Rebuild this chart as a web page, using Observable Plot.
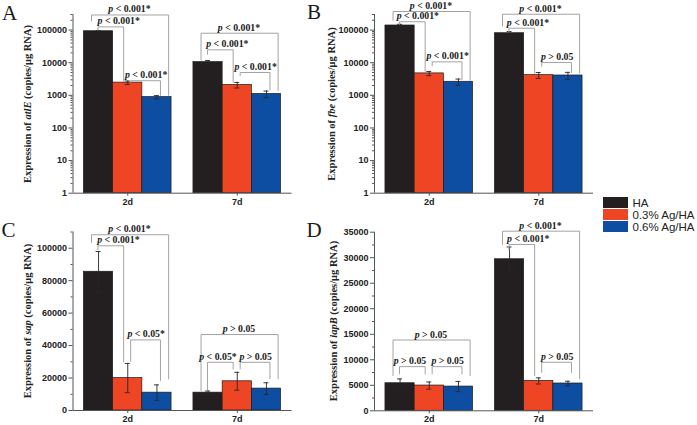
<!DOCTYPE html>
<html><head><meta charset="utf-8">
<script src="https://cdn.jsdelivr.net/npm/d3@7"></script>
<script src="https://cdn.jsdelivr.net/npm/@observablehq/plot@0.6"></script>
<style>
body{margin:0;background:#fff;}
#fig{position:relative;width:697px;height:425px;overflow:hidden;background:#fff;font-family:"Liberation Sans",Arial,sans-serif;}
#fig svg{position:absolute;left:0;top:0;max-width:none;}
.letter{position:absolute;font-family:"Liberation Serif","Times New Roman",serif;font-size:21px;line-height:21px;color:#1a1a1a;}
.ylab{position:absolute;font-family:"Liberation Serif","Times New Roman",serif;font-weight:bold;font-size:10.5px;line-height:11px;white-space:nowrap;transform:translate(-50%,-50%) rotate(-90deg);color:#222;}
.legend{position:absolute;left:603px;top:196.5px;}
.legrow{display:flex;align-items:center;height:12px;}
.sw{width:25px;height:10.5px;margin-right:4.5px;}
.legrow span{font-size:11.5px;color:#222;line-height:12px;}
</style>
</head><body>
<div id="fig"></div>
<script>
// ---- data ----
const groups = ["2d", "7d"];
const series = ["HA", "0.3% Ag/HA", "0.6% Ag/HA"];
const seriesColors = ["#231f20", "#ee4524", "#0d4ea3"];

// values in order: 2d HA, 2d 0.3%, 2d 0.6%, 7d HA, 7d 0.3%, 7d 0.6%
const atlEMean = [92000, 2450, 880, 10400, 2080, 1100];
const atlEErr  = [4000, 300, 100, 1300, 400, 250];
const fbeMean  = [138000, 4700, 2600, 80000, 4150, 4050];
const fbeErr   = [12000, 700, 550, 10000, 850, 1000];
const sapMean  = [85500, 20000, 11000, 11000, 18000, 13500];
const sapErr   = [12500, 9000, 4800, 1000, 5500, 3600];
const iapBMean = [5400, 4950, 4750, 29700, 5850, 5350];
const iapBErr  = [850, 700, 1000, 2400, 600, 450];

const logTicks  = [1, 10, 100, 1000, 10000, 100000];
const sapTicks  = [0, 20000, 40000, 60000, 80000, 100000];
const iapBTicks = [0, 5000, 10000, 15000, 20000, 25000, 30000, 35000];

// significance brackets: [group, bar a, bar b, line level, left leg end, right leg end, label, label position?]
const atlEBrackets = [
  ["2d", 0, 2, 290000, 190000, 1000, "p < 0.001*"],
  ["2d", 0, 1, 125000, 100000, 2700, "p < 0.001*", 1.19],
  ["2d", 1, 2, 2800, 2500, 1000, "p < 0.001*"],
  ["7d", 0, 2, 80000, 12000, 1400, "p < 0.001*"],
  ["7d", 0, 1, 24800, 18000, 2500, "p < 0.001*", 1.16],
  ["7d", 1, 2, 5000, 4000, 1450, "p < 0.001*"]
];
const fbeBrackets = [
  ["2d", 0, 2, 370000, 200000, 2900, "p < 0.001*"],
  ["2d", 0, 1, 180000, 150000, 5400, "p < 0.001*", 1.11],
  ["2d", 1, 2, 10600, 8000, 3000, "p < 0.001*"],
  ["7d", 0, 2, 306000, 134000, 4800, "p < 0.001*"],
  ["7d", 0, 1, 114000, 88000, 4800, "p < 0.001*", 1.13],
  ["7d", 1, 2, 10100, 7700, 4900, "p > 0.05"]
];
const sapBrackets = [
  ["2d", 0, 2, 108300, 103600, 19500, "p < 0.001*"],
  ["2d", 0, 1, 101500, 99000, 30000, "p < 0.001*", 1.18],
  ["2d", 1, 2, 43500, 30300, 18500, "p < 0.05*"],
  ["7d", 0, 2, 46800, 12300, 19500, "p > 0.05"],
  ["7d", 0, 1, 29700, 12700, 25600, "p < 0.05*"],
  ["7d", 1, 2, 29700, 25600, 19500, "p > 0.05"]
];
const iapBBrackets = [
  ["2d", 0, 2, 13870, 6900, 6900, "p > 0.05"],
  ["2d", 0, 1, 8650, 7230, 7230, "p > 0.05"],
  ["2d", 1, 2, 8650, 7230, 7230, "p > 0.05"],
  ["7d", 0, 2, 35200, 32600, 6250, "p < 0.001*"],
  ["7d", 0, 1, 32600, 31600, 6900, "p < 0.001*", 1.14],
  ["7d", 1, 2, 9500, 7540, 7540, "p > 0.05"]
];

// ---- layout (bar units) ----
const groupStep = 3.75;
const xDomain = [-0.375, 7.125];
const legX = {"0-2": [0.26, 2.9], "0-1": [0.48, 1.36], "1-2": [1.6, 2.62]};
const labelXDefault = {"0-2": 1.56, "0-1": 0.84, "1-2": 2.13};
const groupCenters = groups.map((g, i) => i * groupStep + 1.5);

function logMinor(max) {
  const out = [];
  for (let p = 1; p <= max; p *= 10) for (let m = 2; m <= 9; m++) if (m * p <= max) out.push(m * p);
  return out;
}
function linMinor(step, max) {
  const out = [];
  for (let v = step / 2; v <= max; v += step) out.push(v);
  return out;
}

function panel({mean, err, brackets, type, domain, ticks, minor, margin}) {
  const rows = mean.map((v, i) => {
    const g = Math.floor(i / 3), s = i % 3;
    const x1 = g * groupStep + s;
    return {group: groups[g], series: series[s], value: v, x1, x2: x1 + 1, xc: x1 + 0.5, lo: v - err[i], hi: v + err[i]};
  });
  const base = type === "log" ? domain[0] : 0;
  const segs = [], labels = [];
  brackets.forEach((b, k) => {
    const [group, a, c, yl, yle, yre, label, lx] = b;
    const off = groups.indexOf(group) * groupStep;
    const key = a + "-" + c;
    const [L, R] = legX[key];
    segs.push({id: k, x: off + L, y: yle}, {id: k, x: off + L, y: yl}, {id: k, x: off + R, y: yl}, {id: k, x: off + R, y: yre});
    labels.push({x: off + (lx ?? labelXDefault[key]), y: yl, text: label});
  });
  const capW = 0.085;
  const svg = Plot.plot({
    width: 697, height: 425,
    marginLeft: margin[0], marginRight: 697 - margin[1], marginTop: margin[2], marginBottom: 425 - margin[3],
    x: {domain: xDomain, axis: null},
    y: {type, domain, axis: null},
    color: {domain: series, range: seriesColors},
    style: {background: "none", fontFamily: "'Liberation Sans', Arial, sans-serif", fontSize: "9px", fontWeight: "bold", color: "#222", overflow: "visible"},
    marks: [
      Plot.rect(rows, {x1: "x1", x2: "x2", y1: base, y2: "value", fill: "series", stroke: "#1b1b1b", strokeWidth: 0.7}),
      Plot.ruleX(rows, {x: "xc", y1: "lo", y2: "hi", stroke: "#262626", strokeWidth: 0.9}),
      Plot.ruleY(rows, {y: "hi", x1: d => d.xc - capW, x2: d => d.xc + capW, stroke: "#262626", strokeWidth: 0.9}),
      Plot.ruleY(rows, {y: "lo", x1: d => d.xc - capW, x2: d => d.xc + capW, stroke: "#262626", strokeWidth: 0.9}),
      Plot.line(segs, {x: "x", y: "y", z: "id", stroke: "#a3a3a3", strokeWidth: 1}),
      Plot.text(labels, {x: "x", y: "y", text: "text", dy: -2.5, lineAnchor: "bottom", fontFamily: "'Liberation Serif', 'Times New Roman', serif", fontSize: 9.8, fontWeight: "bold", fill: "#222"}),
      Plot.axisY(minor, {tickSize: 2, tickFormat: () => "", label: null, stroke: "#555"}),
      Plot.axisY(ticks, {tickSize: 4, tickPadding: 2, tickFormat: d => String(d), label: null, stroke: "#555"}),
      Plot.axisX(groupCenters, {tickSize: 3, tickPadding: 2, tickFormat: d => groups[groupCenters.indexOf(d)], label: null, stroke: "#555"}),
      Plot.ruleX([xDomain[0]], {stroke: "#555", strokeWidth: 1}),
      Plot.ruleY([base], {stroke: "#555", strokeWidth: 1})
    ]
  });
  svg.querySelectorAll('g[aria-label="text"] text').forEach(t => {
    const s = t.textContent;
    if (s.startsWith("p ")) {
      t.textContent = "";
      const p = document.createElementNS("http://www.w3.org/2000/svg", "tspan");
      p.setAttribute("font-style", "italic");
      p.textContent = "p";
      t.appendChild(p);
      t.appendChild(document.createTextNode(s.slice(1)));
    }
  });
  return svg;
}

const fig = document.getElementById("fig");
// margin: [left, right, top, bottom] absolute pixel edges of each plot area
fig.appendChild(panel({mean: atlEMean, err: atlEErr, brackets: atlEBrackets, type: "log", domain: [1, 300000], ticks: logTicks, minor: logMinor(300000), margin: [72.5, 291.5, 14, 192.7]}));
fig.appendChild(panel({mean: fbeMean, err: fbeErr, brackets: fbeBrackets, type: "log", domain: [1, 300000], ticks: logTicks, minor: logMinor(300000), margin: [374, 593, 14, 192.7]}));
fig.appendChild(panel({mean: sapMean, err: sapErr, brackets: sapBrackets, type: "linear", domain: [0, 110000], ticks: sapTicks, minor: linMinor(20000, 110000), margin: [72.5, 291.5, 231.5, 410]}));
fig.appendChild(panel({mean: iapBMean, err: iapBErr, brackets: iapBBrackets, type: "linear", domain: [0, 35000], ticks: iapBTicks, minor: linMinor(5000, 35000), margin: [374, 593, 231.7, 410.3]}));

// panel letters
[["A", 2, 3.4], ["B", 307, 1.9], ["C", 1.5, 220.4], ["D", 306.5, 219.9]].forEach(([t, l, tp]) => {
  const d = document.createElement("div");
  d.className = "letter"; d.textContent = t;
  d.style.left = l + "px"; d.style.top = tp + "px";
  fig.appendChild(d);
});
// y-axis titles
[["atlE", 26.7, 103.5], ["fbe", 330.5, 103.5], ["sap", 26.7, 321], ["iapB", 332.5, 321]].forEach(([gene, cx, cy]) => {
  const d = document.createElement("div");
  d.className = "ylab";
  d.innerHTML = "Expression of <i>" + gene + "</i> (copies/μg RNA)";
  d.style.left = cx + "px"; d.style.top = cy + "px";
  fig.appendChild(d);
});
// legend
const leg = document.createElement("div");
leg.className = "legend";
series.forEach((s, i) => {
  const r = document.createElement("div");
  r.className = "legrow";
  r.innerHTML = '<div class="sw" style="background:' + seriesColors[i] + '"></div><span>' + s + '</span>';
  leg.appendChild(r);
});
fig.appendChild(leg);
</script>
</body></html>
